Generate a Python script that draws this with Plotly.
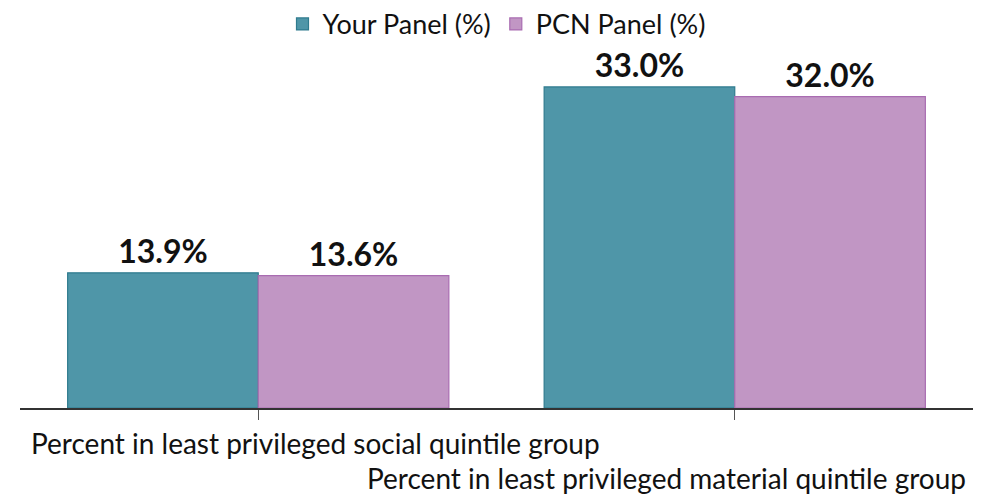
import plotly.graph_objects as go

categories = ["Percent in least privileged social quintile group",
              "Percent in least privileged material quintile group"]
your_panel = [13.9, 33.0]
pcn_panel = [13.6, 32.0]
series_names = ["Your Panel (%)", "PCN Panel (%)"]

FONT = "Lato"

fig = go.Figure()
fig.add_trace(go.Bar(
    name=series_names[0], x=categories, y=your_panel,
    marker=dict(color="#4f96a8", line=dict(color="#2f7b8e", width=1.2)),
    texttemplate="<b>%{y:.1f}%</b>", textposition="outside",
    textfont=dict(family=FONT, size=32, color="#111111"),
    cliponaxis=False,
))
fig.add_trace(go.Bar(
    name=series_names[1], x=categories, y=pcn_panel,
    marker=dict(color="#c196c4", line=dict(color="#a96cb1", width=1.2)),
    texttemplate="<b>%{y:.1f}%</b>", textposition="outside",
    textfont=dict(family=FONT, size=32, color="#111111"),
    cliponaxis=False,
))

shifts = [(57, -35), (-68, -70)]
for cat, (xs, ys) in zip(categories, shifts):
    fig.add_annotation(x=cat, y=0, xref="x", yref="paper", text=cat,
                       showarrow=False, xanchor="center", yanchor="middle",
                       xshift=xs, yshift=ys,
                       font=dict(family=FONT, size=28, color="#111111"))

fig.update_layout(
    width=975, height=487,
    margin=dict(l=12, r=10, t=42, b=87, autoexpand=False),
    paper_bgcolor="white", plot_bgcolor="white",
    barmode="group", bargap=0.2, bargroupgap=0,
    font=dict(family=FONT, size=28, color="#111111"),
    showlegend=True,
    legend=dict(orientation="h", x=0.5, xanchor="center", y=1.14, yanchor="top",
                font=dict(family=FONT, size=27, color="#111111"),
                itemwidth=30, traceorder="normal", borderwidth=0,
                bgcolor="rgba(0,0,0,0)"),
)
fig.update_xaxes(showticklabels=False, showline=True, linecolor="#333333", linewidth=1.5,
                 ticks="outside", ticklen=10, tickcolor="#555555", tickwidth=1,
                 showgrid=False)
fig.update_yaxes(range=[0, 36.8], visible=False, showgrid=False, zeroline=False)

fig.write_html("out.html")
